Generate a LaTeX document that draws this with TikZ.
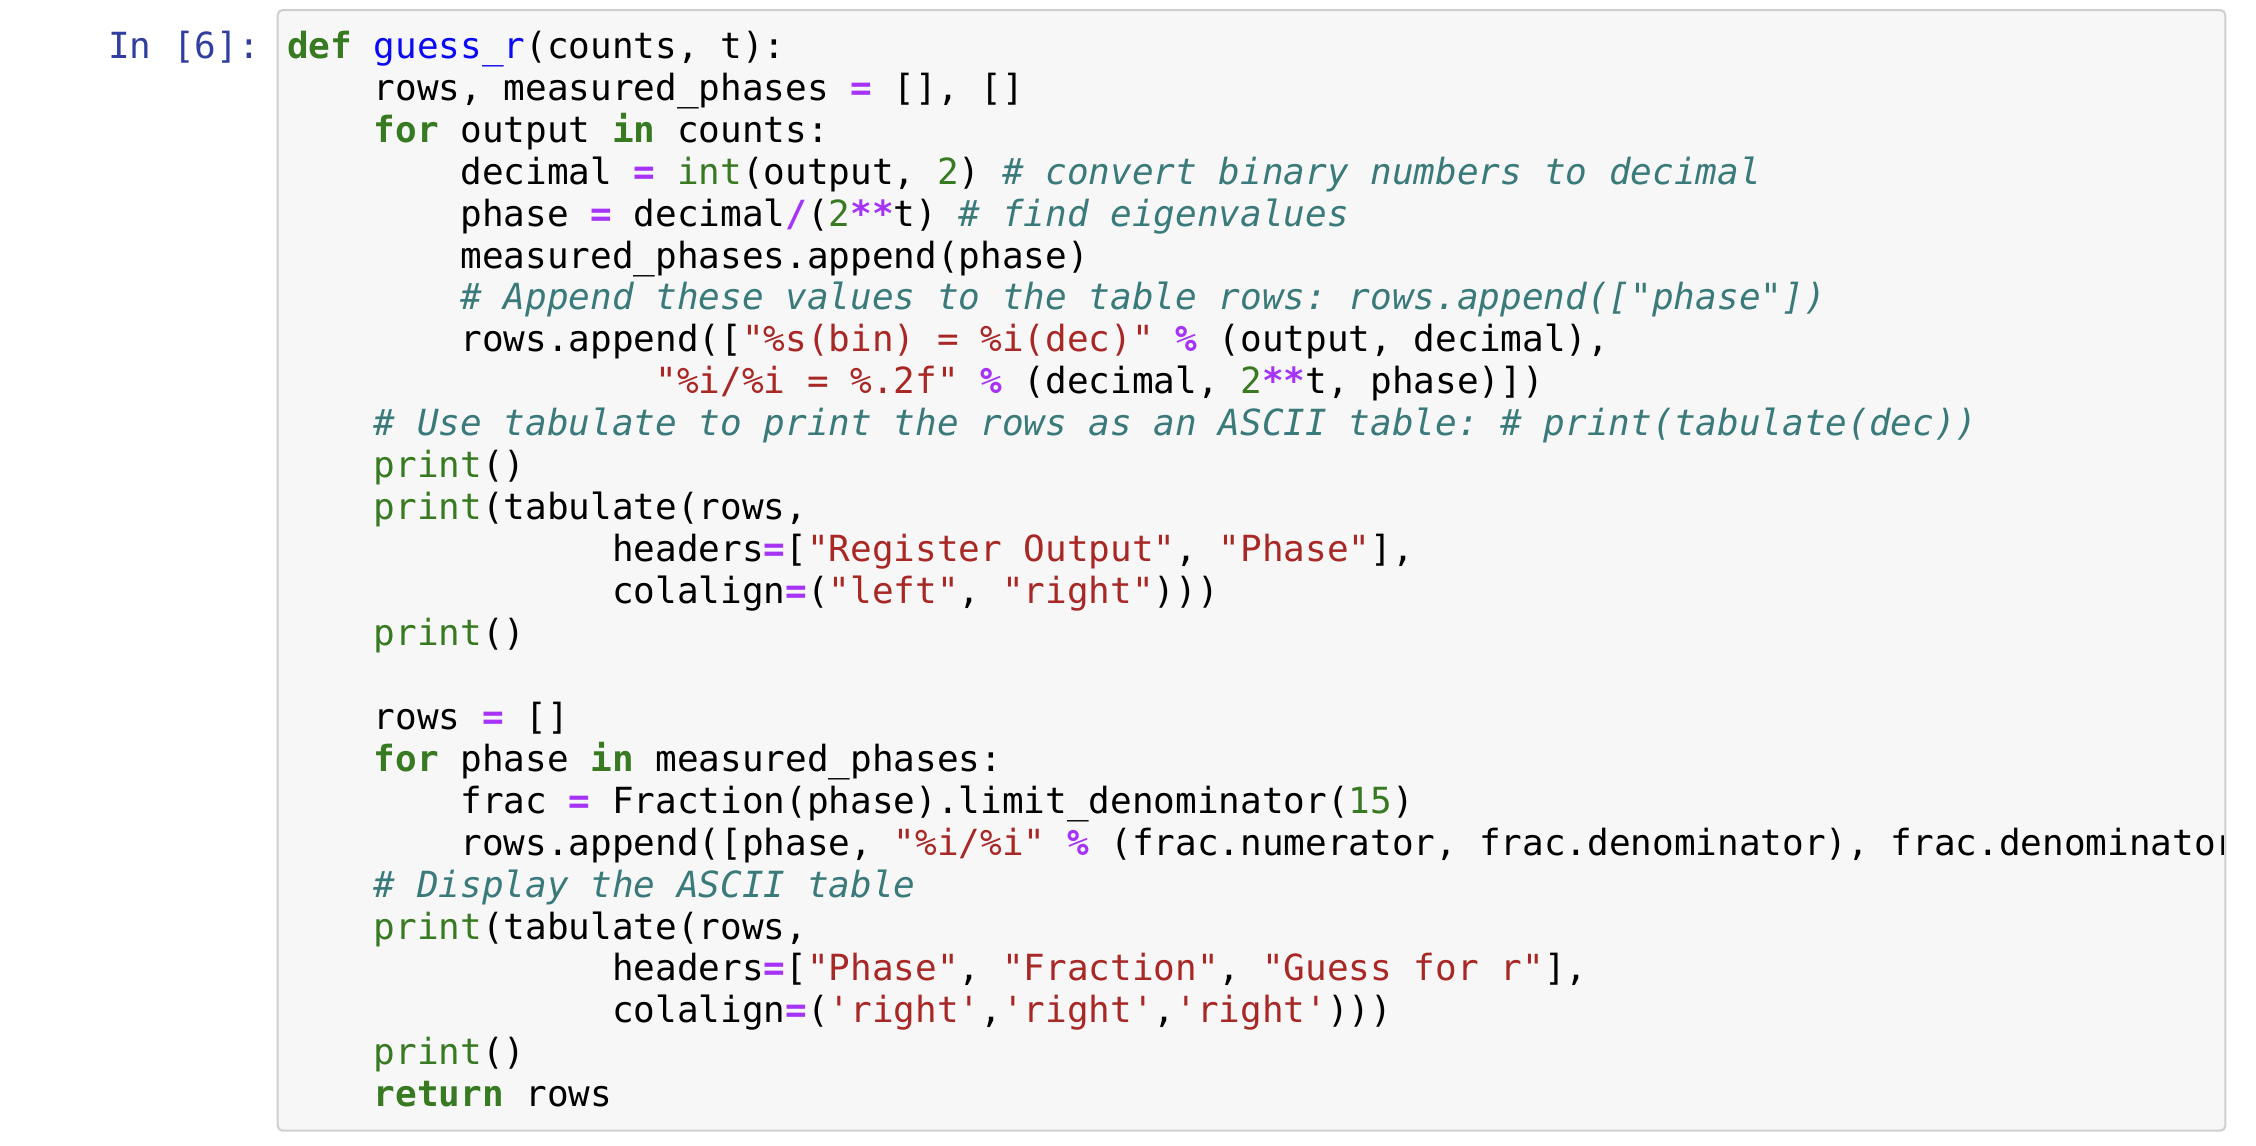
\documentclass[tikz,border=0pt]{standalone}
\usepackage{fontspec}
\setmonofont{DejaVu Sans Mono}
\usetikzlibrary{positioning}

\definecolor{kwgreen}{RGB}{56,122,34}
\definecolor{fnblue}{RGB}{10,10,245}
\definecolor{oppurple}{RGB}{166,52,247}
\definecolor{strred}{RGB}{168,40,38}
\definecolor{comteal}{RGB}{58,122,122}
\definecolor{promptblue}{RGB}{48,63,159}
\definecolor{cellbg}{RGB}{247,247,247}
\definecolor{cellborder}{RGB}{207,207,207}

\newcommand\pykw[1]{{\color{kwgreen}\bfseries #1}}
\newcommand\pyfn[1]{{\color{fnblue}#1}}
\newcommand\pyop[1]{{\color{oppurple}\bfseries #1}}
\newcommand\pybi[1]{{\color{kwgreen}#1}}
\newcommand\pynum[1]{{\color{kwgreen}#1}}
\newcommand\pystr[1]{{\color{strred}#1}}
\newcommand\pycom[1]{{\color{comteal}\itshape #1}}

\begin{document}
\begin{tikzpicture}[x=0.5pt,y=-0.5pt,
    cellbox/.style={draw=cellborder,fill=cellbg,line width=1pt,rounded corners=2.5pt},
    codeline/.style={anchor=base west,inner sep=0pt,outer sep=0pt,text=black,
        font=\ttfamily\fontsize{18}{21}\selectfont\frenchspacing},
    promptline/.style={codeline,text=promptblue}]
\useasboundingbox (0,0) rectangle (2256,1146);
% input cell
\draw[cellbox] (277.7,10) rectangle (2225.3,1130.7);
\node[promptline] (prompt) at (108,58.5) {In [6]:};
\begin{scope}
\clip (279,11) rectangle (2223,1129);
% one unit = one column / one line
\begin{scope}[shift={(287,58.3)},x=10.835pt,y=-20.97pt]
\node[codeline] (L1) at (0,0) {\pykw{def} \pyfn{guess\_r}(counts, t):};
\node[codeline] (L2) at (4,1) {rows, measured\_phases \pyop{=} [], []};
\node[codeline] (L3) at (4,2) {\pykw{for} output \pykw{in} counts:};
\node[codeline] (L4) at (8,3) {decimal \pyop{=} \pybi{int}(output, \pynum{2}) \pycom{\# convert binary numbers to decimal}};
\node[codeline] (L5) at (8,4) {phase \pyop{=} decimal\pyop{/}(\pynum{2}\pyop{**}t) \pycom{\# find eigenvalues}};
\node[codeline] (L6) at (8,5) {measured\_phases.append(phase)};
\node[codeline] (L7) at (8,6) {\pycom{\# Append these values to the table rows: rows.append(["phase"])}};
\node[codeline] (L8) at (8,7) {rows.append([\pystr{"\%s(bin) = \%i(dec)"} \pyop{\%} (output, decimal),};
\node[codeline] (L9) at (17,8) {\pystr{"\%i/\%i = \%.2f"} \pyop{\%} (decimal, \pynum{2}\pyop{**}t, phase)])};
\node[codeline] (L10) at (4,9) {\pycom{\# Use tabulate to print the rows as an ASCII table: \# print(tabulate(dec))}};
\node[codeline] (L11) at (4,10) {\pybi{print}()};
\node[codeline] (L12) at (4,11) {\pybi{print}(tabulate(rows,};
\node[codeline] (L13) at (15,12) {headers\pyop{=}[\pystr{"Register Output"}, \pystr{"Phase"}],};
\node[codeline] (L14) at (15,13) {colalign\pyop{=}(\pystr{"left"}, \pystr{"right"})))};
\node[codeline] (L15) at (4,14) {\pybi{print}()};
\node[codeline] (L17) at (4,16) {rows \pyop{=} []};
\node[codeline] (L18) at (4,17) {\pykw{for} phase \pykw{in} measured\_phases:};
\node[codeline] (L19) at (8,18) {frac \pyop{=} Fraction(phase).limit\_denominator(\pynum{15})};
\node[codeline] (L20) at (8,19) {rows.append([phase, \pystr{"\%i/\%i"} \pyop{\%} (frac.numerator, frac.denominator), frac.denominator])};
\node[codeline] (L21) at (4,20) {\pycom{\# Display the ASCII table}};
\node[codeline] (L22) at (4,21) {\pybi{print}(tabulate(rows,};
\node[codeline] (L23) at (15,22) {headers\pyop{=}[\pystr{"Phase"}, \pystr{"Fraction"}, \pystr{"Guess for r"}],};
\node[codeline] (L24) at (15,23) {colalign\pyop{=}(\pystr{'right'},\pystr{'right'},\pystr{'right'})))};
\node[codeline] (L25) at (4,24) {\pybi{print}()};
\node[codeline] (L26) at (4,25) {\pykw{return} rows};
\end{scope}
\end{scope}
\end{tikzpicture}
\end{document}
